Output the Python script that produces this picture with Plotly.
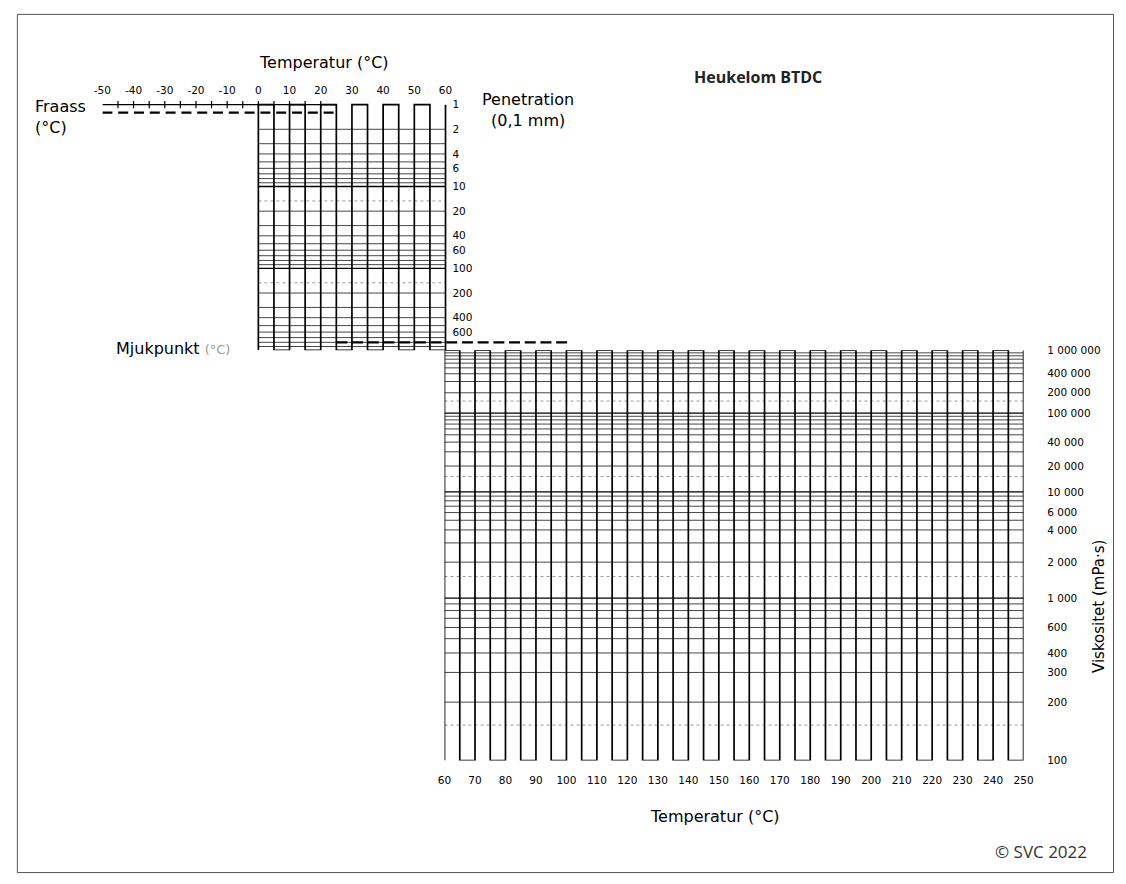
import numpy as np
import plotly.graph_objects as go

# ---------------- chart values ----------------
top_temp_ticks = [-50, -40, -30, -20, -10, 0, 10, 20, 30, 40, 50, 60]
bottom_temp_ticks = [60, 70, 80, 90, 100, 110, 120, 130, 140, 150, 160, 170, 180,
                     190, 200, 210, 220, 230, 240, 250]
pen_ticks = [1, 2, 4, 6, 10, 20, 40, 60, 100, 200, 400, 600]
visc_ticks = [1000000, 400000, 200000, 100000, 40000, 20000, 10000, 6000, 4000,
              2000, 1000, 600, 400, 300, 200, 100]
visc_tick_text = ["1 000 000", "400 000", "200 000", "100 000", "40 000", "20 000",
                  "10 000", "6 000", "4 000", "2 000", "1 000", "600", "400", "300",
                  "200", "100"]
temp_grid_step = 5
pen_chart_temp = [0, 60]
visc_chart_temp = [60, 250]
pen_limits = [1, 1000]
visc_limits = [100, 1000000]
pen_decades = [0, 1, 2]
visc_decades = [2, 3, 4, 5]
grid_multipliers = [1, 2, 3, 4, 5, 6, 7, 8, 9]
dashed_multiplier = 1.5
fraass_temp = [-50, 25]
fraass_pen = 1.25
fraass_axis_pen = 1
fraass_tick_temps = [-45, -40, -35, -30, -25, -20, -15, -10, -5, 0, 5, 10, 15, 20]
softening_temp = [25, 100]
softening_pen = 800
VISC_C = -0.55  # Heukelom viscosity scale: log(log(eta) + c)


def visc_scale(v):
    return float(np.log10(np.log10(v) + VISC_C))


# ---------------- page geometry ----------------
W, H = 1126, 884


def fx(px):
    return px / W


def fy(py):
    return 1 - py / H


FONT = "DejaVu Sans"

# upper chart pixel geometry
up_x0, up_x60, up_xend = 95, 444, 1032
up_ppd = (up_x60 - up_x0) / 110.0
up_range_x = [-50, -50 + (up_xend - up_x0) / up_ppd]
pen_top_px, pen_bot_px = 100, 349
ppdec = (pen_bot_px - pen_top_px) / 3.0
up_top_px = 92
up_range_y = [3, -(pen_top_px - up_top_px) / ppdec]

# lower chart pixel geometry
lo_x0, lo_x1 = 443, 1032
lo_top_px, lo_bot_px = 349, 765

fig = go.Figure()


def add_lines(xs, ys, xa, ya, color, width, dash=None):
    fig.add_trace(go.Scatter(x=xs, y=ys, mode="lines", xaxis=xa, yaxis=ya,
                             line=dict(color=color, width=width, dash=dash),
                             hoverinfo="skip", showlegend=False))


def meander(temps, ybot, ytop):
    xs, ys = [], []
    for i, t in enumerate(temps):
        xs += [t, t]
        ys += [ybot, ytop] if i % 2 == 0 else [ytop, ybot]
    return xs, ys


def hsegs(vals, t0, t1):
    xs, ys = [], []
    for v in vals:
        xs += [t0, t1, None]
        ys += [v, v, None]
    return xs, ys


# ---------- upper (penetration) chart ----------
pen_minor, pen_major = [], []
for n in pen_decades:
    for k in grid_multipliers:
        v = k * 10 ** n
        if v <= pen_limits[0]:
            continue
        (pen_major if k == 1 else pen_minor).append(v)
pen_dashed = [dashed_multiplier * 10 ** n for n in pen_decades[1:]]

x, y = hsegs(pen_dashed, *pen_chart_temp)
add_lines(x, y, "x", "y", "#999999", 1, "3px,3px")
x, y = hsegs(pen_minor, *pen_chart_temp)
add_lines(x, y, "x", "y", "#474747", 1)
x, y = hsegs(pen_major, *pen_chart_temp)
add_lines(x, y, "x", "y", "#000000", 1.3)
up_temps = list(range(pen_chart_temp[0], pen_chart_temp[1] + 1, temp_grid_step))
x, y = meander(up_temps, pen_limits[1], pen_limits[0])
add_lines(x, y, "x", "y", "#000000", 1.7)

# ---------- lower (viscosity) chart ----------
visc_minor, visc_major = [], []
for n in visc_decades:
    for k in grid_multipliers:
        v = k * 10 ** n
        if v <= visc_limits[0]:
            continue
        (visc_major if k == 1 else visc_minor).append(visc_scale(v))
visc_dashed = [visc_scale(dashed_multiplier * 10 ** n) for n in visc_decades]

x, y = hsegs(visc_dashed, *visc_chart_temp)
add_lines(x, y, "x2", "y2", "#999999", 1, "3px,3px")
x, y = hsegs(visc_minor, *visc_chart_temp)
add_lines(x, y, "x2", "y2", "#474747", 1)
x, y = hsegs(visc_major, *visc_chart_temp)
add_lines(x, y, "x2", "y2", "#000000", 1.3)
lo_temps = list(range(visc_chart_temp[0], visc_chart_temp[1] + 1, temp_grid_step))
x, y = meander(lo_temps, visc_scale(visc_limits[0]), visc_scale(visc_limits[1]))
add_lines(x, y, "x2", "y2", "#000000", 1.7)

# ---------- Fraass & softening point lines ----------
add_lines(fraass_temp, [fraass_axis_pen] * 2, "x", "y", "#000000", 1.2)
tx, ty = [], []
for t in fraass_tick_temps:
    tx += [t, t, None]
    ty += [fraass_axis_pen * 10 ** -0.045, fraass_axis_pen * 10 ** 0.045, None]
add_lines(tx, ty, "x", "y", "#000000", 1.2)
add_lines(fraass_temp, [fraass_pen] * 2, "x", "y", "#000000", 2.2, "10px,5.8px")
add_lines(softening_temp, [softening_pen] * 2, "x", "y", "#000000", 2.2, "11px,4.7px")

tickfont = dict(family=FONT, size=10.5, color="#000")

fig.update_layout(
    width=W, height=H, margin=dict(l=0, r=0, t=0, b=0, pad=0),
    paper_bgcolor="white", plot_bgcolor="rgba(0,0,0,0)",
    showlegend=False,
    xaxis=dict(domain=[fx(up_x0), fx(up_xend)], range=up_range_x, anchor="y",
               side="top", tickmode="array", tickvals=top_temp_ticks,
               ticktext=[str(t) for t in top_temp_ticks], showgrid=False,
               zeroline=False, showline=False, ticks="", tickfont=tickfont),
    yaxis=dict(domain=[fy(pen_bot_px), fy(up_top_px)], type="log", range=up_range_y,
               anchor="free", position=fx(450), side="right", tickmode="array",
               tickvals=pen_ticks, ticktext=[str(p) for p in pen_ticks],
               showgrid=False, zeroline=False, showline=False, ticks="",
               tickfont=tickfont),
    xaxis2=dict(domain=[fx(lo_x0), fx(lo_x1)], range=visc_chart_temp, anchor="y2",
                side="bottom", tickmode="array", tickvals=bottom_temp_ticks,
                ticktext=[str(t) for t in bottom_temp_ticks], showgrid=False,
                zeroline=False, showline=False, ticks="", tickfont=tickfont,
                ticklabelstandoff=12),
    yaxis2=dict(domain=[fy(lo_bot_px), fy(lo_top_px)],
                range=[visc_scale(visc_limits[0]), visc_scale(visc_limits[1])],
                anchor="free", position=fx(1055), side="right", tickmode="array",
                tickvals=[visc_scale(v) for v in visc_ticks], ticktext=visc_tick_text,
                showgrid=False, zeroline=False, showline=False, ticks="",
                tickfont=tickfont),
)

lab = dict(family=FONT, size=16, color="#000")


def ann(text, px, py, xanchor="center", yanchor="middle", font=lab, **kw):
    fig.add_annotation(text=text, x=fx(px), y=fy(py), xref="paper", yref="paper",
                       xanchor=xanchor, yanchor=yanchor, showarrow=False, font=font, **kw)


ann("Temperatur (°C)", 320, 57)
ann("Fraass<br>(°C)", 24, 113, xanchor="left", align="left")
ann("Penetration<br>(0,1 mm)", 528, 105, align="center")
ann('Mjukpunkt <span style="color:#999999;font-size:13px">(°C)</span>', 227, 347,
    xanchor="right")
ann("<b>Heukelom BTDC</b>", 762, 72,
    font=dict(family="Open Sans", size=16, color="#222"))
ann("Temperatur (°C)", 718, 822)
ann("Viskositet (mPa·s)", 1108, 609, textangle=-90,
    font=dict(family=FONT, size=15, color="#000"))
ann("© SVC 2022", 1050, 857, font=dict(family="Open Sans", size=17, color="#333"))

# outer frame
fig.add_shape(type="rect", xref="paper", yref="paper", x0=fx(8.5), y0=fy(878.5),
              x1=fx(1123.5), y1=fy(8.5), line=dict(color="#555", width=1))

fig.write_html(
    "out.html",
    config={"displayModeBar": False},
    post_script="document.body.style.margin='0';"
                "document.documentElement.style.overflow='hidden';"
                "document.body.style.overflow='hidden';",
)
